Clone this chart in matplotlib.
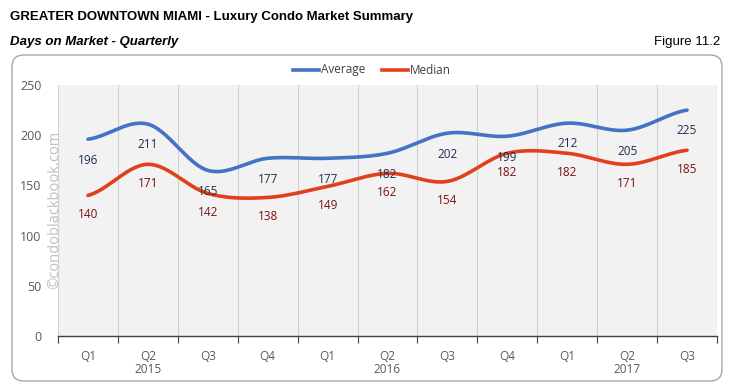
import numpy as np
import matplotlib
matplotlib.use("Agg")
import matplotlib.pyplot as plt
from matplotlib.patches import FancyBboxPatch
from matplotlib.lines import Line2D

quarters = ["Q1", "Q2", "Q3", "Q4", "Q1", "Q2", "Q3", "Q4", "Q1", "Q2", "Q3"]
years = {1: "2015", 5: "2016", 9: "2017"}
average = [196, 211, 165, 177, 177, 182, 202, 199, 212, 205, 225]
median = [140, 171, 142, 138, 149, 162, 154, 182, 182, 171, 185]

W, H = 741, 391
fig = plt.figure(figsize=(W / 100, H / 100), dpi=100)
fig.patch.set_facecolor("white")

def fx(px):
    return px / W

def fy(py):
    return 1 - py / H

# rounded frame
frame = FancyBboxPatch((fx(12), fy(381)), fx(710), (381 - 55) / H,
                       boxstyle="round,pad=0,rounding_size=0.016",
                       transform=fig.transFigure, facecolor="white",
                       edgecolor="#A6A6A6", linewidth=1.0, mutation_aspect=W / H,
                       zorder=-10)
fig.patches.append(frame)

title_font = ["Liberation Sans Narrow", "Liberation Sans", "DejaVu Sans"]
fig.text(fx(10), fy(17), "GREATER DOWNTOWN MIAMI - Luxury Condo Market Summary",
         fontsize=9.5, fontweight="bold", family=title_font, va="center", ha="left")
fig.text(fx(10), fy(42), "Days on Market - Quarterly", fontsize=9.5,
         fontweight="bold", style="italic", family=title_font, va="center", ha="left")
fig.text(fx(720), fy(42), "Figure 11.2", fontsize=9.5, family=title_font,
         va="center", ha="right")

ax = fig.add_axes([fx(58), fy(336), fx(717) - fx(58), (336 - 85) / H])
ax.set_zorder(1)
ax.set_facecolor("#F2F2F2")
n = len(quarters)
x = np.arange(n)


def catmull(xs, ys, steps=30):
    xs = np.asarray(xs, float)
    ys = np.asarray(ys, float)
    px = np.concatenate([[2 * xs[0] - xs[1]], xs, [2 * xs[-1] - xs[-2]]])
    py = np.concatenate([[ys[0]], ys, [ys[-1]]])
    outx, outy = [], []
    for i in range(1, len(px) - 2):
        t = np.linspace(0, 1, steps, endpoint=(i == len(px) - 3))
        p0x, p1x, p2x, p3x = px[i - 1:i + 3]
        p0y, p1y, p2y, p3y = py[i - 1:i + 3]
        c1x = p1x + (p2x - p0x) / 6
        c1y = p1y + (p2y - p0y) / 6
        c2x = p2x - (p3x - p1x) / 6
        c2y = p2y - (p3y - p1y) / 6
        bx = (1 - t) ** 3 * p1x + 3 * (1 - t) ** 2 * t * c1x + 3 * (1 - t) * t ** 2 * c2x + t ** 3 * p2x
        by = (1 - t) ** 3 * p1y + 3 * (1 - t) ** 2 * t * c1y + 3 * (1 - t) * t ** 2 * c2y + t ** 3 * p2y
        outx.append(bx)
        outy.append(by)
    return np.concatenate(outx), np.concatenate(outy)


avg_color = "#4472C4"
med_color = "#E2401C"
sx, sy = catmull(x, average)
ax.plot(sx, sy, color=avg_color, lw=2.6, solid_capstyle="round", zorder=3)
mx, my = catmull(x, median)
ax.plot(mx, my, color=med_color, lw=2.6, solid_capstyle="round", zorder=3)

lab_font = ["Open Sans", "DejaVu Sans"]
for i in range(n):
    ax.annotate(str(average[i]), (x[i], average[i]), xytext=(0, -15),
                textcoords="offset points", ha="center", va="center",
                fontsize=8.5, color="#1F2F50", family=lab_font, zorder=4)
    ax.annotate(str(median[i]), (x[i], median[i]), xytext=(0, -14),
                textcoords="offset points", ha="center", va="center",
                fontsize=8.5, color="#7B1010", family=lab_font, zorder=4)

ax.set_xlim(-0.5, n - 0.5)
ax.set_ylim(0, 250)
ax.set_yticks(range(0, 251, 50))
ax.set_xticks(x)
ax.set_xticklabels(quarters)
ax.set_xticks(np.arange(-0.5, n, 1), minor=True)
ax.grid(False)
for b in np.arange(-0.5, n, 1):
    ax.axvline(b, color="#D0D0D0", lw=0.8, zorder=1)
ax.tick_params(axis="x", which="major", length=0, pad=10, labelsize=8.5, labelcolor="#595959")
ax.tick_params(axis="x", which="minor", length=5, direction="out", color="#404040", width=0.8)
ax.tick_params(axis="y", length=0, pad=12, labelsize=9, labelcolor="#595959")
for lbl in ax.get_xticklabels() + ax.get_yticklabels():
    lbl.set_family(lab_font)
for s in ["top", "right", "left"]:
    ax.spines[s].set_visible(False)
ax.spines["bottom"].set_color("#404040")
ax.spines["bottom"].set_linewidth(1.0)

for i, yr in years.items():
    ax.text(i, -33, yr, ha="center", va="center", fontsize=8.5, color="#595959",
            family=lab_font, clip_on=False)

# watermark
fig.text(fx(55), fy(210), "\u00a9condoblackbook.com", rotation=90, ha="center",
         va="center", fontsize=10.5, color="#BFBFBF", family=lab_font, zorder=5)

# legend (manual, consistent alignment)
legend_items = [("Average", avg_color, 293), ("Median", med_color, 382)]
for name, col, x0 in legend_items:
    fig.add_artist(Line2D([fx(x0), fx(x0 + 26)], [fy(70), fy(70)], color=col, lw=2.6,
                          transform=fig.transFigure))
    fig.text(fx(x0 + 28), fy(70), name, ha="left", va="center", fontsize=8.5,
             color="#404040", family=lab_font)

fig.savefig("out.png", dpi=100, facecolor="white")
